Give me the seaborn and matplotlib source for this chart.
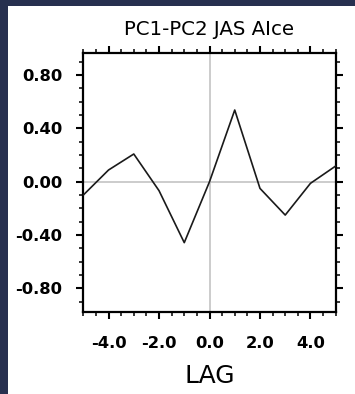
import matplotlib
matplotlib.use("Agg")
import matplotlib.pyplot as plt
from matplotlib.patches import Rectangle
from matplotlib.ticker import MultipleLocator, FixedLocator
import numpy as np
import pandas as pd
import seaborn as sns

# Lagged correlation between PC1 and PC2 (JAS, AIce)
lags = [-5, -4, -3, -2, -1, 0, 1, 2, 3, 4, 5]
corr = [-0.10, 0.088, 0.208, -0.067, -0.457, 0.0, 0.538, -0.05, -0.25, -0.012, 0.118]

title = "PC1-PC2 JAS AIce"
xlabel = "LAG"
xticks = [-4.0, -2.0, 0.0, 2.0, 4.0]
yticks = [-0.80, -0.40, 0.00, 0.40, 0.80]

sns.set_style("ticks")
plt.rcParams["font.family"] = ["DejaVu Sans"]
plt.rcParams["text.color"] = "black"
plt.rcParams["axes.labelcolor"] = "black"
plt.rcParams["xtick.color"] = "black"
plt.rcParams["ytick.color"] = "black"

W, H = 355, 394
fig = plt.figure(figsize=(W / 100, H / 100), dpi=100)
fig.patch.set_facecolor("#27304f")
# white page area behind the plot
fig.add_artist(Rectangle((7.7 / W, 0), 1, 1 - 6 / H, transform=fig.transFigure,
                         facecolor="white", edgecolor="none", zorder=-10))

ax = fig.add_axes([83.3 / W, 1 - 311.7 / H, (335.7 - 83.3) / W, (311.7 - 52.7) / H])
ax.set_zorder(1)
ax.set_facecolor("white")

df = pd.DataFrame({"lag": lags, "corr": corr})
ax.axhline(0, color="#c4c4c4", lw=1.2, zorder=1)
ax.axvline(0, color="#c4c4c4", lw=1.2, zorder=1)
sns.lineplot(data=df, x="lag", y="corr", ax=ax, color="#1a1a1a", lw=1.2, zorder=3)

ax.set_xlim(-5, 5)
ax.set_ylim(-0.975, 0.968)

ax.xaxis.set_major_locator(FixedLocator(xticks))
ax.xaxis.set_minor_locator(MultipleLocator(0.5))
ax.yaxis.set_major_locator(FixedLocator(yticks))
ax.yaxis.set_minor_locator(MultipleLocator(0.1))
ax.set_xticklabels([f"{v:.1f}" for v in xticks])
ax.set_yticklabels([f"{v:.2f}" for v in yticks])

for s in ax.spines.values():
    s.set_visible(True)
    s.set_linewidth(1.6)
    s.set_color("black")

ax.tick_params(which="major", direction="out", length=5, width=1.5, colors="black",
               top=True, right=True, labelsize=11.8)
ax.tick_params(which="minor", direction="out", length=2.6, width=1.1, color="black",
               top=True, right=True)
ax.tick_params(axis="x", which="major", pad=12.5)
ax.tick_params(axis="y", which="major", pad=10)
for lab in ax.get_xticklabels() + ax.get_yticklabels():
    lab.set_fontweight("bold")

ax.set_xlabel(xlabel, fontsize=18, labelpad=9, color="black")
ax.set_ylabel("")
ax.set_title(title, fontsize=14.2, pad=13, color="black")

fig.savefig("out.png", dpi=100, facecolor=fig.get_facecolor())
